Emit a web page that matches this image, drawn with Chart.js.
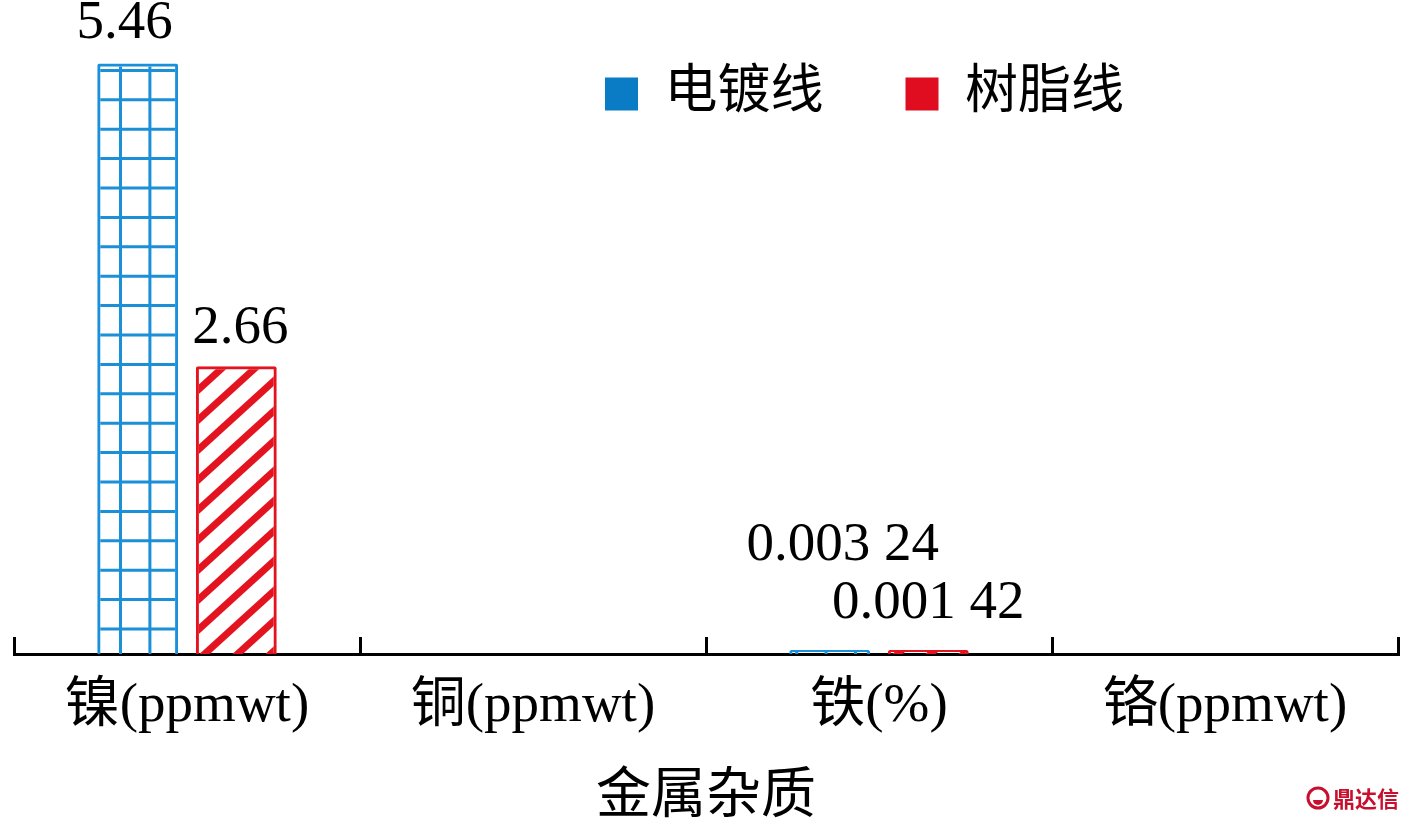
<!DOCTYPE html>
<html><head><meta charset="utf-8">
<script src="https://cdn.jsdelivr.net/npm/chart.js@4.4.1/dist/chart.umd.min.js"></script>
<style>html,body{margin:0;padding:0;background:#fff;}canvas{display:block;}</style>
</head><body>
<canvas id="c" width="1408" height="820"></canvas>
<script>
// ---- data ----
const categories = ['镍(ppmwt)', '铜(ppmwt)', '铁(%)', '铬(ppmwt)'];
const seriesNames = ['电镀线', '树脂线'];
const electroplating = [5.46, null, 0.00324, null];
const resin = [2.66, null, 0.00142, null];
const axisTitle = '金属杂质';
const watermarkText = '鼎达信';

// ---- styles ----
const BLUE = '#1b8fd8', RED = '#e3141f';
const LEGEND_COLORS = ['#0a7cc6', '#e00d20'];
const SERIF = '"Liberation Serif", "Noto Sans CJK SC", serif';
const canvas = document.getElementById('c');
const mainCtx = canvas.getContext('2d');

function gridPattern() {
  const s = 147, step = 29.4;
  const t = document.createElement('canvas'); t.width = s; t.height = s;
  const g = t.getContext('2d');
  g.strokeStyle = BLUE; g.lineWidth = 3;
  for (let k = 0; k < 5; k++) {
    const x = 2.9 + k * step, y = 11.6 + k * step;
    g.beginPath(); g.moveTo(x, -2); g.lineTo(x, s + 2); g.stroke();
    g.beginPath(); g.moveTo(-2, y); g.lineTo(s + 2, y); g.stroke();
  }
  return mainCtx.createPattern(t, 'repeat');
}
function stripePattern() {
  const w = 33, h = 30;
  const t = document.createElement('canvas'); t.width = w; t.height = h;
  const g = t.getContext('2d');
  g.strokeStyle = RED; g.lineWidth = 7;
  for (let n = 0; n <= 2; n++) {
    g.beginPath(); g.moveTo(n * w - 2 * w, 2 * h); g.lineTo(n * w + w, -h); g.stroke();
  }
  return mainCtx.createPattern(t, 'repeat');
}

function fmt(v) {
  const s = String(v);
  const [a, b] = s.split('.');
  if (!b || b.length <= 4) return s;
  const groups = b.match(/.{1,3}/g);
  return a + '.' + groups.join(' ');
}

const valueLabelPlugin = {
  id: 'valueLabels',
  afterDatasetsDraw(chart, args, opts) {
    const ctx = chart.ctx;
    ctx.save();
    ctx.font = '55px ' + SERIF;
    ctx.fillStyle = '#000';
    ctx.textAlign = 'center';
    ctx.textBaseline = 'alphabetic';
    chart.data.datasets.forEach((ds, di) => {
      const meta = chart.getDatasetMeta(di);
      meta.data.forEach((bar, i) => {
        const v = ds.data[i];
        if (v == null) return;
        const off = opts.offsets[di][i] || [0, 24];
        ctx.fillText(fmt(v), bar.x + off[0], bar.y - off[1]);
      });
    });
    ctx.restore();
  }
};

// lay the legend out as a single row placed inside the plot area
const legendPlacer = {
  id: 'legendPlacer',
  beforeLayout(chart) {
    if (chart.legend) chart.legend.isHorizontal = () => true;
  },
  afterLayout(chart) {
    const lg = chart.legend;
    if (!lg) return;
    const pad = lg.options.labels.padding;
    lg.left = 605 - pad;
    lg.right = 1400;
    lg.top = 67.5 - pad;
    lg.bottom = 200;
    lg.width = lg.right - lg.left;
    lg.height = lg.bottom - lg.top;
  }
};

const watermarkPlugin = {
  id: 'watermark',
  afterDraw(chart) {
    const ctx = chart.ctx;
    ctx.save();
    ctx.fillStyle = '#c8102e';
    ctx.strokeStyle = '#c8102e';
    ctx.lineWidth = 3;
    ctx.beginPath(); ctx.arc(1318, 798, 10, 0, Math.PI * 2); ctx.stroke();
    ctx.beginPath(); ctx.arc(1318, 800, 5, 0, Math.PI); ctx.fill();
    ctx.font = 'bold 22px "Noto Sans CJK SC", sans-serif';
    ctx.textAlign = 'left';
    ctx.textBaseline = 'middle';
    ctx.fillText(watermarkText, 1333, 799);
    ctx.restore();
  }
};

new Chart(canvas, {
  type: 'bar',
  data: {
    labels: categories,
    datasets: [
      { label: seriesNames[0], data: electroplating, backgroundColor: gridPattern(), borderColor: BLUE,
        borderWidth: 3, borderRadius: 2, minBarLength: 4 },
      { label: seriesNames[1], data: resin, backgroundColor: stripePattern(), borderColor: RED,
        borderWidth: 3, borderRadius: 2, minBarLength: 4 }
    ]
  },
  options: {
    responsive: false,
    animation: false,
    events: [],
    layout: { padding: { top: 5, left: 14, right: 10, bottom: 0 } },
    datasets: { bar: { categoryPercentage: 0.57, barPercentage: 0.82 } },
    scales: {
      x: {
        z: 1,
        offset: true,
        grid: { display: true, drawOnChartArea: false, drawTicks: true, tickLength: -17, tickWidth: 3, tickColor: '#000', offset: true },
        border: { display: true, color: '#000', width: 3 },
        ticks: { font: { size: 55, family: SERIF, lineHeight: 1.2 }, color: '#000', padding: 37, maxRotation: 0, autoSkip: false },
        title: { display: true, text: axisTitle, color: '#000', font: { size: 55, family: SERIF, lineHeight: '30px' }, padding: { top: 6, bottom: 7 } }
      },
      y: { display: false, min: 0, max: 6 }
    },
    plugins: {
      tooltip: { enabled: false },
      legend: {
        display: true,
        position: 'chartArea',
        align: 'start',
        labels: {
          boxWidth: 33, boxHeight: 33, padding: 82, color: '#000',
          font: { size: 53, family: SERIF },
          generateLabels(chart) {
            return chart.data.datasets.map((ds, i) => ({
              text: ds.label, fillStyle: LEGEND_COLORS[i], strokeStyle: LEGEND_COLORS[i],
              lineWidth: 0, hidden: false, datasetIndex: i, fontColor: '#000'
            }));
          }
        }
      },
      valueLabels: {
        offsets: [
          [[-13, 25], null, [13, 90], null],
          [[4, 23], null, [0, 32], null]
        ]
      }
    }
  },
  plugins: [valueLabelPlugin, legendPlacer, watermarkPlugin]
});
</script>
</body></html>
